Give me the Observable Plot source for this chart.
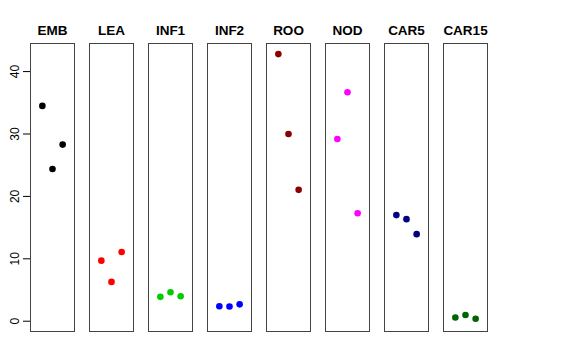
<!DOCTYPE html>
<html>
<head>
<meta charset="utf-8">
<script src="https://cdn.jsdelivr.net/npm/d3@7"></script>
<script src="https://cdn.jsdelivr.net/npm/@observablehq/plot@0.6"></script>
<style>
  html, body { margin: 0; padding: 0; background: #fff; }
  svg { display: block; }
</style>
</head>
<body>
<div id="chart"></div>
<script>
const categories = ["EMB", "LEA", "INF1", "INF2", "ROO", "NOD", "CAR5", "CAR15"];
const colors = ["#000000", "#FF0000", "#00CD00", "#0000FF", "#8B0000", "#FF00FF", "#000080", "#006400"];
const replicate = [1, 2, 3];
const EMB = [34.5, 24.4, 28.3];
const LEA = [9.7, 6.3, 11.1];
const INF1 = [3.9, 4.65, 4.0];
const INF2 = [2.4, 2.35, 2.7];
const ROO = [42.8, 30.0, 21.05];
const NOD = [29.2, 36.7, 17.3];
const CAR5 = [17.0, 16.35, 13.95];
const CAR15 = [0.6, 1.0, 0.4];
const yTicks = [0, 10, 20, 30, 40];

const series = {EMB, LEA, INF1, INF2, ROO, NOD, CAR5, CAR15};
const data = categories.flatMap((c, i) =>
  series[c].map((v, j) => ({tissue: c, rep: replicate[j], value: v, color: colors[i]}))
);

const chart = Plot.plot({
  width: 576,
  height: 360,
  marginLeft: 29,
  marginRight: 88,
  marginTop: 43,
  marginBottom: 29,
  style: {fontFamily: "'Liberation Sans', Arial, sans-serif", background: "#fff"},
  fx: {domain: categories, paddingInner: 0.248, paddingOuter: 0, axis: null},
  x: {domain: [-0.17, 4.17], axis: null},
  y: {domain: [-1.65, 44.5], axis: null},
  marks: [
    Plot.frame({stroke: "#444", strokeWidth: 1}),
    Plot.axisY({
      ticks: yTicks,
      tickSize: 7,
      tickPadding: 5,
      tickRotate: -90,
      fontSize: 12,
      label: null,
      stroke: "#000",
      fill: "#000"
    }),
    Plot.dot(data, {fx: "tissue", x: "rep", y: "value", r: 3.3, fill: "color", stroke: null}),
    Plot.text(categories, {
      fx: d => d,
      text: d => d,
      frameAnchor: "top",
      lineAnchor: "bottom",
      dy: -9,
      fontWeight: "bold",
      fontSize: 13.5,
      fill: "#000"
    })
  ]
});
document.getElementById("chart").appendChild(chart);
</script>
</body>
</html>
